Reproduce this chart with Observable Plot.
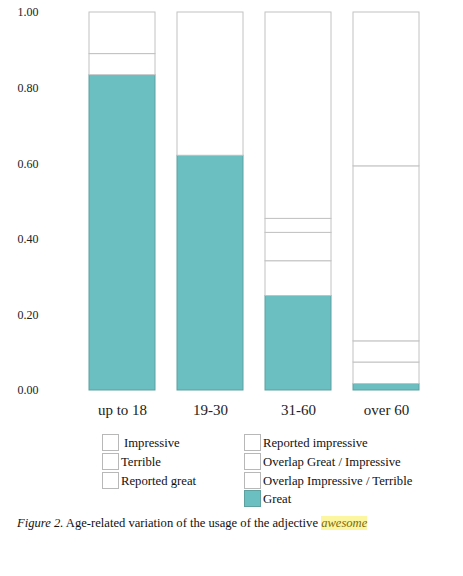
<!DOCTYPE html>
<html>
<head>
<meta charset="utf-8">
<script src="https://cdn.jsdelivr.net/npm/d3@7"></script>
<script src="https://cdn.jsdelivr.net/npm/@observablehq/plot@0.6"></script>
<style>
  html, body { margin: 0; padding: 0; background: #fff; }
  body { width: 463px; height: 576px; position: relative; font-family: 'Liberation Serif', 'Times New Roman', serif; color: #111; }
  #chart { position: absolute; left: 0; top: 0; }
  .legend { position: absolute; font-family: 'Liberation Serif', 'Times New Roman', serif; font-size: 12.7px; line-height: 16px; }
  .item { position: absolute; white-space: nowrap; }
  .box { position: absolute; left: 0; top: 0; width: 15px; height: 15px; border: 1px solid #b8b8b8; background: #fff; box-sizing: content-box; }
  .lab { position: absolute; top: 1px; font-family: 'Liberation Serif', 'Times New Roman', serif; }
  #caption { position: absolute; left: 17px; top: 516px; font-family: 'Liberation Serif', 'Times New Roman', serif; font-size: 12.6px; white-space: nowrap; }
  #caption em { font-family: 'Liberation Serif', 'Times New Roman', serif; }
  #caption em.hl { background: #fdf6a0; color: #7a6a10; }
</style>
</head>
<body>
<div id="chart"></div>
<div id="legend"></div>
<div id="caption"><em>Figure 2.</em> Age-related variation of the usage of the adjective <em class="hl">awesome</em></div>
<script>
// Age groups (x categories)
const groups = ["up to 18", "19-30", "31-60", "over 60"];
// Stacking order from bottom to top
const categories = ["Great", "Overlap Great / Impressive", "Overlap Impressive / Terrible", "Reported impressive", "Reported great", "Terrible", "Impressive"];
// Proportions per category, one value per age group
const great        = [0.834, 0.621, 0.250, 0.017];
const overlapGI    = [0.000, 0.000, 0.092, 0.057];
const overlapIT    = [0.000, 0.000, 0.000, 0.000];
const reportedImp  = [0.000, 0.000, 0.075, 0.056];
const reportedGr   = [0.000, 0.000, 0.000, 0.000];
const terrible     = [0.056, 0.000, 0.037, 0.463];
const impressive   = [0.110, 0.379, 0.546, 0.407];
const seriesValues = [great, overlapGI, overlapIT, reportedImp, reportedGr, terrible, impressive];
const yTicks = [0, 0.2, 0.4, 0.6, 0.8, 1.0];
// Legend layout (two columns)
const legendLeft = ["Impressive", "Terrible", "Reported great"];
const legendRight = ["Reported impressive", "Overlap Great / Impressive", "Overlap Impressive / Terrible", "Great"];

const data = [];
categories.forEach((c, i) => {
  groups.forEach((g, j) => {
    const v = seriesValues[i][j];
    if (v > 0) data.push({group: g, category: c, value: v});
  });
});

const teal = "#6bbfc1";
const chart = Plot.plot({
  width: 463,
  height: 430,
  marginTop: 12,
  marginBottom: 40,
  marginLeft: 66,
  marginRight: 22,
  style: {fontFamily: "'Liberation Serif', 'Times New Roman', serif", background: "#fff", color: "#222"},
  x: {domain: groups, padding: 0.25, label: null},
  y: {domain: [0, 1], label: null},
  marks: [
    Plot.barY(data, Plot.stackY({
      x: "group", y: "value", z: "category", order: categories,
      fill: d => d.category === "Great" ? teal : "#ffffff",
      stroke: d => d.category === "Great" ? "#5e9fa0" : "#c2c2c2",
      strokeWidth: 1
    })),
    Plot.axisY(yTicks, {tickSize: 0, tickPadding: 0, textAnchor: "start", dx: -49, fontSize: 12, tickFormat: d3.format(".2f"), label: null}),
    Plot.axisX({tickSize: 0, tickPadding: 14, fontSize: 15, label: null})
  ]
});
document.getElementById("chart").appendChild(chart);

const legend = document.getElementById("legend");
function addItem(name, x, y, fill, textOffset) {
  const it = document.createElement("div");
  it.className = "item legend";
  it.style.left = x + "px";
  it.style.top = y + "px";
  const b = document.createElement("div");
  b.className = "box";
  if (fill) { b.style.background = fill; b.style.borderColor = "#5e9fa0"; }
  const l = document.createElement("div");
  l.className = "lab";
  l.style.left = textOffset + "px";
  l.textContent = name;
  it.appendChild(b); it.appendChild(l);
  legend.appendChild(it);
}
const rowY = [434, 453, 471.7, 490];
legendLeft.forEach((n, i) => addItem(n, 102, rowY[i], null, i === 0 ? 22 : 19));
legendRight.forEach((n, i) => addItem(n, 244, rowY[i], n === "Great" ? teal : null, 19));
</script>
</body>
</html>
